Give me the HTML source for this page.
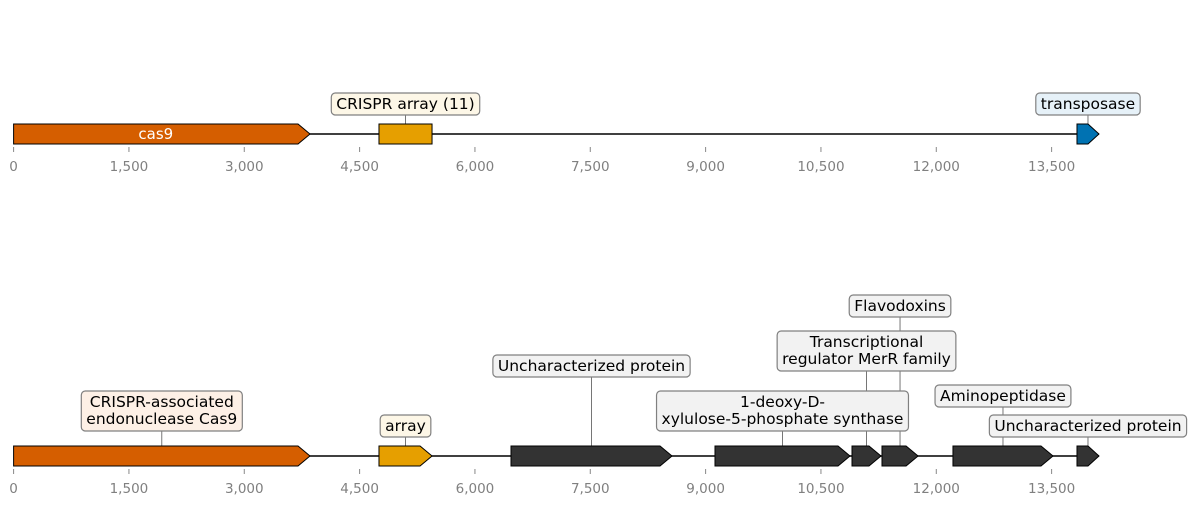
<!DOCTYPE html>
<html><head><meta charset="utf-8"><style>
body{margin:0;background:#fff}
svg{display:block;font-family:"DejaVu Sans","Liberation Sans",sans-serif}
</style></head><body>
<svg id="c" width="1193" height="505"></svg>
<script>
const ticks=[0,1500,3000,4500,6000,7500,9000,10500,12000,13500];
const topStarts=[0,4752,13830];
const topEnds=[3855,5442,14116];
const topColors=["#d55e00","#e69f00","#0072b2"];
const topStrand=[1,0,1];
const topLabels=[["cas9"],["CRISPR array (11)"],["transposase"]];
const botStarts=[0,4752,6469,9122,10904,11294,12217,13830];
const botEnds=[3855,5442,8563,10878,11281,11763,13518,14116];
const botColors=["#d55e00","#e69f00","#333333","#333333","#333333","#333333","#333333","#333333"];
const botLabels=[["CRISPR-associated","endonuclease Cas9"],["array"],["Uncharacterized protein "],["1-deoxy-D-","xylulose-5-phosphate synthase"],["Transcriptional","regulator MerR family"],["Flavodoxins "],["Aminopeptidase "],["Uncharacterized protein "]];
const botLabelLevel=[391,415,355,391,331,295,385,415];
const topLabelLevel=[null,93,93];
const fills={"#d55e00":"#fdf0e6","#e69f00":"#fdf7e7","#0072b2":"#e6f1f8","#333333":"#f2f2f2"};
const svg=document.getElementById('c');const NS="http://www.w3.org/2000/svg";
const X=v=>13.6+v*0.07689;
function el(t,a,p){const e=document.createElementNS(NS,t);for(const k in a)e.setAttribute(k,a[k]);(p||svg).appendChild(e);return e;}
function track(y0,starts,ends,colors,strands,labels,levels,name){
  const g=el('g',{});
  
  
  const bl=el('line',{x1:X(0),x2:X(Math.max(...ends)),y1:y0,y2:y0,stroke:'#000','stroke-width':1.5},g);
  
  
  ticks.forEach(t=>{
    const tk=el('line',{x1:X(t),x2:X(t),y1:y0+13,y2:y0+18,stroke:'#888'},g);
    
    
    const tl=el('text',{x:X(t),y:y0+37,'text-anchor':'middle','font-size':13.5,fill:'#808080'},g);
    tl.textContent=t.toLocaleString('en-US');
    
    
  });
  starts.forEach((s,i)=>{
    const lv=levels[i];if(lv==null)return;
    const n=labels[i].length;const bottom=lv+(n==1?22:40);
    const cx=X((s+ends[i])/2);
    const ln=el('line',{x1:cx,x2:cx,y1:bottom,y2:y0-10,stroke:'#555','stroke-width':0.8},g);
    
    
  });
  starts.forEach((s,i)=>{
    const x1=X(s),x2=X(ends[i]);const h=Math.min(12,(x2-x1)*0.5);
    let pts;
    if(strands[i]===0)pts=`${x1},${y0-10} ${x2},${y0-10} ${x2},${y0+10} ${x1},${y0+10}`;
    else pts=`${x1},${y0-10} ${x2-h},${y0-10} ${x2},${y0} ${x2-h},${y0+10} ${x1},${y0+10}`;
    const p=el('polygon',{points:pts,fill:colors[i],stroke:'#000','stroke-width':1},g);
    
    
    const lv=levels[i];const cx=(x1+x2)/2;
    if(lv==null){
      const t=el('text',{x:cx-6,y:y0+5,'text-anchor':'middle','font-size':15,fill:'#fff'},g);
      t.textContent=labels[i][0];
      
      
      return;
    }
    const n=labels[i].length;
    const lg=el('g',{},g);
    
    
    const ts=labels[i].map((s2,j)=>{const t=el('text',{x:cx,y:lv+16+j*17,'text-anchor':'middle','font-size':15.5,fill:'#000'},lg);t.textContent=s2;return t;});
    let w=Math.max(...ts.map(t=>t.getComputedTextLength()))+10;
    const r=el('rect',{x:cx-w/2,y:lv,width:w,height:n==1?22:40,rx:4,fill:fills[colors[i]],stroke:'#808080','stroke-width':1.2});
    lg.insertBefore(r,lg.firstChild);
  });
}
track(134,topStarts,topEnds,topColors,topStrand,topLabels,topLabelLevel,'top-track');
track(456,botStarts,botEnds,botColors,[1,1,1,1,1,1,1,1],botLabels,botLabelLevel,'bottom-track');
</script>
</body></html>
